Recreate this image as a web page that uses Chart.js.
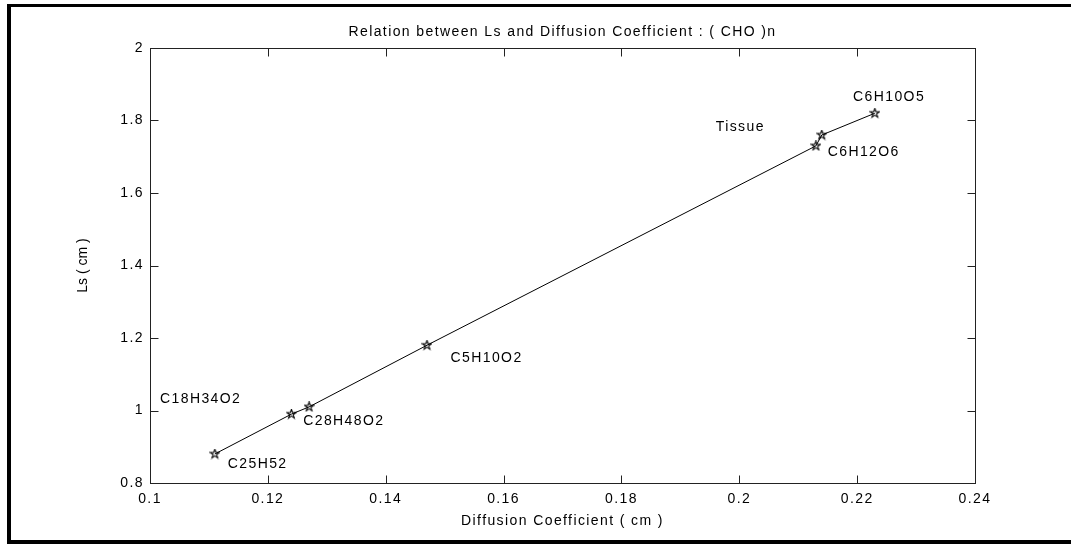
<!DOCTYPE html>
<html>
<head>
<meta charset="utf-8">
<title>Relation between Ls and Diffusion Coefficient</title>
<script src="https://cdn.jsdelivr.net/npm/chart.js@4.4.0/dist/chart.umd.min.js"></script>
<style>
  html, body { margin: 0; padding: 0; background: #fff; }
  #wrap { width: 1071px; height: 544px; }
</style>
</head>
<body>
<div id="wrap"><canvas id="lsChart" width="1071" height="544"></canvas></div>
<script>
// values
const diffusion = [0.111, 0.124, 0.127, 0.147, 0.213, 0.214, 0.223];
const lsValues  = [0.88, 0.99, 1.01, 1.18, 1.73, 1.76, 1.82];

const xTicks = [0.1, 0.12, 0.14, 0.16, 0.18, 0.2, 0.22, 0.24];
const yTicks = [0.8, 1, 1.2, 1.4, 1.6, 1.8, 2];

// text annotations (data coords, left edge / middle)
const labelTexts = ['C18H34O2', 'C28H48O2', 'C25H52', 'C5H10O2', 'Tissue', 'C6H12O6', 'C6H10O5'];
const labelX = [0.1017, 0.126, 0.1132, 0.151, 0.196, 0.215, 0.2193];
const labelY = [1.032, 0.971, 0.852, 1.145, 1.782, 1.713, 1.865];

const yTitle = 'Ls ( cm )';

const FONT = 'Liberation Sans, Arial, sans-serif';
const SPACING = '1.4px';

// matlab-style pentagram marker
function makeStar() {
    const c = document.createElement('canvas');
    c.width = 11; c.height = 11;
    const g = c.getContext('2d');
    const R = 4.8, r = R * 0.382;
    g.beginPath();
    for (let i = 0; i < 10; i++) {
        const a = -Math.PI / 2 + i * Math.PI / 5;
        const rad = i % 2 === 0 ? R : r;
        const px = 5.5 + rad * Math.cos(a), py = 5.5 + rad * Math.sin(a);
        if (i === 0) g.moveTo(px, py); else g.lineTo(px, py);
    }
    g.closePath();
    g.strokeStyle = '#000';
    g.lineWidth = 1.1;
    g.stroke();
    return c;
}

const framePlugin = {
    id: 'frame',
    beforeDraw(chart) {
        const ctx = chart.ctx;
        ctx.fillStyle = '#fff';
        ctx.fillRect(0, 0, chart.width, chart.height);
        // outer black frame (no right side in the original)
        ctx.fillStyle = '#000';
        ctx.fillRect(7, 4, chart.width - 7, 3);
        ctx.fillRect(7, 4, 4, chart.height - 4);
        ctx.fillRect(7, 540, chart.width - 7, 4);
        ctx.letterSpacing = SPACING;
    },
    afterDatasetsDraw(chart) {
        const ctx = chart.ctx;
        const a = chart.chartArea;
        const xs = chart.scales.x, ys = chart.scales.y;
        const tl = 8;
        ctx.save();
        ctx.strokeStyle = '#222';
        ctx.lineWidth = 1;
        const L = Math.round(a.left) + 0.5, R = Math.round(a.right) + 0.5;
        const T = Math.round(a.top) + 0.5, B = Math.round(a.bottom) + 0.5;
        ctx.strokeRect(L, T, R - L, B - T);
        ctx.beginPath();
        xTicks.forEach(v => {
            const px = Math.round(xs.getPixelForValue(v)) + 0.5;
            ctx.moveTo(px, B); ctx.lineTo(px, B - tl);
            ctx.moveTo(px, T); ctx.lineTo(px, T + tl);
        });
        yTicks.forEach(v => {
            const py = Math.round(ys.getPixelForValue(v)) + 0.5;
            ctx.moveTo(L, py); ctx.lineTo(L + tl, py);
            ctx.moveTo(R, py); ctx.lineTo(R - tl, py);
        });
        ctx.stroke();

        // annotations
        ctx.fillStyle = '#000';
        ctx.font = '14px ' + FONT;
        ctx.textAlign = 'left';
        ctx.textBaseline = 'middle';
        labelTexts.forEach((t, i) => {
            ctx.fillText(t, xs.getPixelForValue(labelX[i]), ys.getPixelForValue(labelY[i]));
        });

        // y axis title, tighter than the rest
        ctx.letterSpacing = '0px';
        ctx.translate(83, (a.top + a.bottom) / 2);
        ctx.rotate(-Math.PI / 2);
        ctx.textAlign = 'center';
        ctx.fillText(yTitle, 0, 0);
        ctx.restore();
    }
};

const fmt = v => String(+Number(v).toFixed(2));

new Chart(document.getElementById('lsChart'), {
    type: 'scatter',
    data: {
        datasets: [{
            data: diffusion.map((d, i) => ({ x: d, y: lsValues[i] })),
            showLine: true,
            borderColor: '#000',
            borderWidth: 1,
            pointStyle: makeStar(),
            pointRadius: 5,
            tension: 0
        }]
    },
    options: {
        responsive: false,
        animation: false,
        layout: { padding: { top: 0, right: 96, bottom: 0, left: 0 } },
        plugins: {
            legend: { display: false },
            tooltip: { enabled: false },
            title: {
                display: true,
                fullSize: false,
                text: 'Relation between Ls and Diffusion Coefficient : ( CHO )n',
                color: '#000',
                font: { family: FONT, size: 14, weight: 'normal', lineHeight: '16px' },
                padding: { top: 24, bottom: 8 }
            }
        },
        scales: {
            x: {
                type: 'linear',
                min: 0.1,
                max: 0.24,
                grid: { display: false, drawTicks: false },
                border: { display: false },
                afterBuildTicks: s => { s.ticks = xTicks.map(v => ({ value: v })); },
                afterFit: s => { s.height = 61; },
                ticks: {
                    color: '#000',
                    padding: 8,
                    maxRotation: 0,
                    autoSkip: false,
                    font: { family: FONT, size: 14 },
                    callback: fmt
                },
                title: {
                    display: true,
                    text: 'Diffusion Coefficient ( cm )',
                    color: '#000',
                    font: { family: FONT, size: 14, lineHeight: '16px' },
                    padding: { top: 0, bottom: 15 }
                }
            },
            y: {
                type: 'linear',
                min: 0.8,
                max: 2,
                grid: { display: false, drawTicks: false },
                border: { display: false },
                afterBuildTicks: s => { s.ticks = yTicks.map(v => ({ value: v })); },
                afterFit: s => { s.width = 150; },
                ticks: {
                    color: '#000',
                    padding: 6,
                    autoSkip: false,
                    font: { family: FONT, size: 14 },
                    callback: fmt
                },
                title: { display: false }
            }
        }
    },
    plugins: [framePlugin]
});
</script>
</body>
</html>
